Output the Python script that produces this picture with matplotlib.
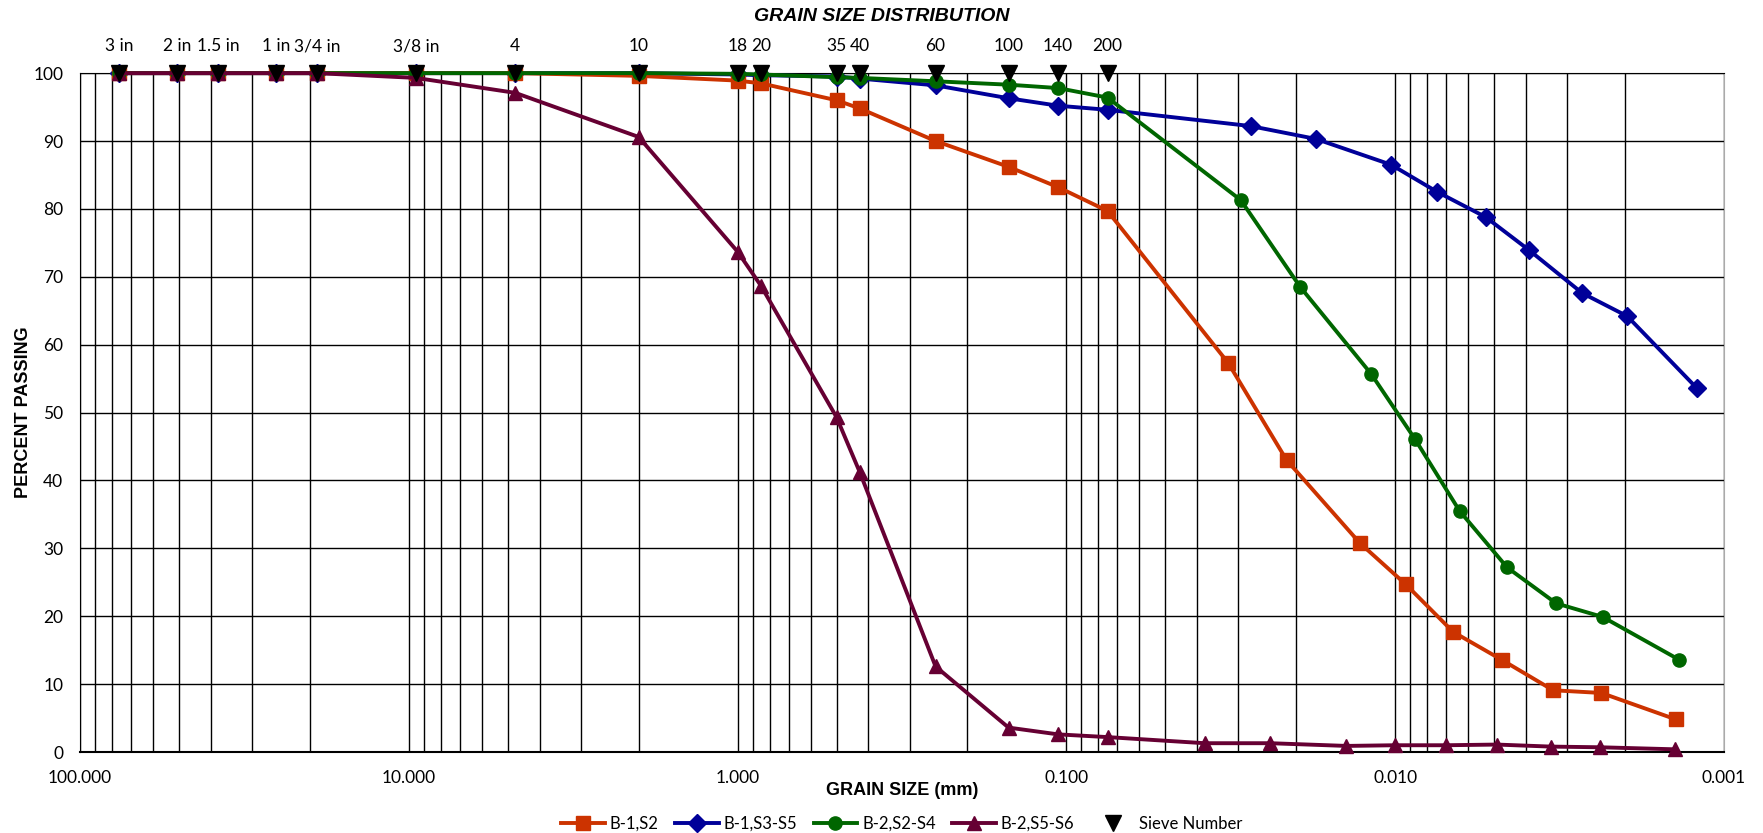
import numpy as np
import matplotlib.pyplot as plt
from matplotlib.ticker import FixedLocator, NullFormatter, FuncFormatter
import matplotlib.transforms as mtransforms

plt.rcParams['font.family'] = ['Lato', 'DejaVu Sans']

# sieve sizes (mm) and names
sieve_mm = [76.2, 50.8, 38.1, 25.4, 19.05, 9.525, 4.75, 2.0, 1.0, 0.85,
            0.5, 0.425, 0.25, 0.15, 0.106, 0.075]
sieve_names = ["3 in", "2 in", "1.5 in", "1 in", "3/4 in", "3/8 in", "4", "10",
               "18", "20", "35", "40", "60", "100", "140", "200"]

# B-1,S2
b1s2_d = sieve_mm + [0.0322, 0.0214, 0.01282, 0.00929, 0.00667, 0.00475, 0.00331, 0.00236, 0.0014]
b1s2_p = [100, 100, 100, 100, 100, 100, 100, 99.6, 98.9, 98.5, 96.0, 94.8, 90.0, 86.2, 83.2, 79.7,
          57.3, 43.0, 30.8, 24.7, 17.7, 13.6, 9.1, 8.7, 4.8]

# B-1,S3-S5
b1s35_d = sieve_mm + [0.0275, 0.0174, 0.01028, 0.00745, 0.00531, 0.00391, 0.0027, 0.00197, 0.00121]
b1s35_p = [100, 100, 100, 100, 100, 100, 100, 100, 99.8, 99.7, 99.5, 99.2, 98.2, 96.3, 95.2, 94.6,
           92.2, 90.3, 86.5, 82.5, 78.8, 73.9, 67.6, 64.2, 53.6]

# B-2,S2-S4
b2s24_d = sieve_mm + [0.0295, 0.01945, 0.01184, 0.00871, 0.00637, 0.00457, 0.00324, 0.00234, 0.00137]
b2s24_p = [100, 100, 100, 100, 100, 100, 100, 100, 99.9, 99.8, 99.4, 99.3, 98.8, 98.3, 97.8, 96.4,
           81.3, 68.5, 55.7, 46.1, 35.5, 27.2, 21.9, 19.9, 13.6]

# B-2,S5-S6
b2s56_d = sieve_mm + [0.038, 0.024, 0.01409, 0.01004, 0.00699, 0.00491, 0.00336, 0.00238, 0.00141]
b2s56_p = [100, 100, 100, 100, 100, 99.3, 97.1, 90.6, 73.7, 68.7, 49.3, 41.2, 12.6, 3.6, 2.6, 2.2,
           1.3, 1.3, 0.9, 1.0, 1.0, 1.1, 0.8, 0.7, 0.4]

sieve_pct = [100] * len(sieve_mm)

fig = plt.figure(figsize=(17.63, 8.33), dpi=100)
ax = fig.add_axes([0.0454, 0.0972, 0.9325, 0.815])

ax.set_xscale('log')
ax.set_xlim(100, 0.001)
ax.set_ylim(0, 100)

lw = 2.8
ms = 9.5
ax.plot(b1s2_d, b1s2_p, color='#CC3300', marker='s', lw=lw, ms=ms, label='B-1,S2', clip_on=False, zorder=4)
ax.plot(b1s35_d, b1s35_p, color='#000099', marker='D', lw=lw, ms=ms, label='B-1,S3-S5', clip_on=False, zorder=3)
ax.plot(b2s24_d, b2s24_p, color='#006600', marker='o', lw=lw, ms=ms, label='B-2,S2-S4', clip_on=False, zorder=5)
ax.plot(b2s56_d, b2s56_p, color='#660033', marker='^', lw=lw, ms=ms, label='B-2,S5-S6', clip_on=False, zorder=6)
ax.plot(sieve_mm, sieve_pct, color='black', marker='v', ls='none', ms=12, label='Sieve Number', clip_on=False, zorder=7)

# sieve labels above plot
trans = mtransforms.blended_transform_factory(ax.transData, ax.transAxes)
for d, name in zip(sieve_mm, sieve_names):
    ax.text(d, 1.028, name, transform=trans, ha='center', va='bottom', fontsize=12.5)

# grid
minor = []
for dec in [0.001, 0.01, 0.1, 1, 10]:
    for k in range(2, 10):
        minor.append(dec * k)
ax.xaxis.set_major_locator(FixedLocator([100, 10, 1, 0.1, 0.01, 0.001]))
ax.xaxis.set_minor_locator(FixedLocator(minor))
ax.xaxis.set_minor_formatter(NullFormatter())
ax.xaxis.set_major_formatter(FuncFormatter(lambda v, p: '%.3f' % v))
ax.set_yticks(np.arange(0, 101, 10))
ax.grid(True, which='both', axis='x', color='black', lw=1.0)
ax.grid(True, which='major', axis='y', color='black', lw=1.0)
ax.tick_params(which='both', length=0, labelsize=12.5)
ax.tick_params(axis='x', pad=13)
ax.tick_params(axis='y', pad=12)
for s in ['left', 'bottom', 'top']:
    ax.spines[s].set_color('black')
ax.spines['right'].set_color('#AAAAAA')
ax.spines['bottom'].set_linewidth(1.5)

ax.set_xlabel('GRAIN SIZE (mm)', fontsize=13, fontweight='bold', family=['Liberation Sans', 'DejaVu Sans'], labelpad=-3)
ax.set_ylabel('PERCENT PASSING', fontsize=13, fontweight='bold', family=['Liberation Sans', 'DejaVu Sans'], labelpad=1)
fig.text(0.5, 0.99, 'GRAIN SIZE DISTRIBUTION', ha='center', va='top', fontsize=14,
         fontweight='bold', style='italic', family=['Liberation Sans', 'DejaVu Sans'])

ax.legend(loc='upper center', bbox_to_anchor=(0.5, -0.072), ncol=5, frameon=False,
          fontsize=12, handlelength=2.6, handletextpad=0.3, columnspacing=1.0, markerscale=1.0)

fig.savefig('out.png', dpi=100)
